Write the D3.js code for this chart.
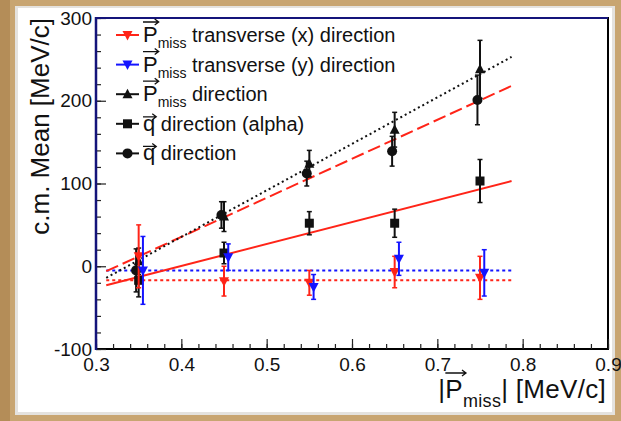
<!DOCTYPE html>
<html>
<head>
<meta charset="utf-8">
<script src="https://cdn.jsdelivr.net/npm/d3@7"></script>
<style>
  body { margin: 0; background: #c8a571; }
  svg { display: block; font-family: "Liberation Sans", Arial, sans-serif; }
</style>
</head>
<body>
<div id="chart"></div>
<script>
// bin centres in |Pmiss|
var xBins = [0.35, 0.45, 0.55, 0.65, 0.75];

// mean values and errors
var pxMean = [12, -18, -20, -7, -14];
var pxErr  = [38, 18, 15, 19, 26];
var pyMean = [-5, 11, -25, 9, -8];
var pyErr  = [41, 16, 15, 20, 28];
var pMean  = [6, 60, 124, 165, 238];
var pErr   = [16, 18, 16, 21, 35];
var qAlphaMean = [-17, 16, 52, 52, 103];
var qAlphaErr  = [20, 13, 14, 17, 26];
var qMean  = [-5, 62, 112, 139, 201];
var qErr   = [26, 16, 15, 18, 30];

// fit lines: value at start and end of fit range
var fitRange  = [0.312, 0.787];
var fitPx     = [-17, -17];
var fitPy     = [-5, -5];
var fitP      = [-14, 253];
var fitQAlpha = [-23, 103];
var fitQ      = [-6, 218];

var xTicks = [0.3, 0.4, 0.5, 0.6, 0.7, 0.8, 0.9];
var yTicks = [-100, 0, 100, 200, 300];

var RED = "#ff2418", BLUE = "#1414ff", NAVY = "#14147a";

var W = 621, H = 421;
var svg = d3.select("#chart").append("svg")
    .attr("width", W)
    .attr("height", H);

// paper background
svg.append("rect").attr("width", W).attr("height", H).attr("fill", "#c8a571");
svg.append("rect").attr("x", 0).attr("y", 0).attr("width", 10).attr("height", H).attr("fill", "#b48d58");
svg.append("rect").attr("x", 15).attr("y", 6).attr("width", 600).attr("height", 409)
    .attr("fill", "#e4e2de");
svg.append("rect").attr("x", 18).attr("y", 8).attr("width", 594).attr("height", 404)
    .attr("fill", "#ffffff");

var x = d3.scaleLinear().domain([0.3, 0.9]).range([96, 608]);
var y = d3.scaleLinear().domain([-100, 300]).range([349, 18]);

// frame
svg.append("rect")
    .attr("x", x(0.3)).attr("y", y(300))
    .attr("width", x(0.9) - x(0.3)).attr("height", y(-100) - y(300))
    .attr("fill", "white").attr("stroke", "black").attr("stroke-width", 2);

// minor ticks
svg.append("g").attr("transform", "translate(0," + y(-100) + ")")
    .call(d3.axisBottom(x).ticks(30).tickSize(-5).tickFormat(""))
    .call(function(g) { g.select(".domain").remove(); });
svg.append("g").attr("transform", "translate(" + x(0.3) + ",0)")
    .call(d3.axisLeft(y).ticks(20).tickSize(-5).tickFormat(""))
    .call(function(g) { g.select(".domain").remove(); });

// major ticks + labels
var xAxis = svg.append("g").attr("transform", "translate(0," + y(-100) + ")")
    .call(d3.axisBottom(x).tickValues(xTicks).tickSize(-10).tickPadding(6).tickFormat(d3.format(".1f")));
xAxis.select(".domain").remove();
xAxis.selectAll("text").attr("font-size", 19).attr("font-family", "Liberation Sans, Arial, sans-serif")
    .attr("fill", "#111").attr("dy", "0.85em");

var yAxis = svg.append("g").attr("transform", "translate(" + x(0.3) + ",0)")
    .call(d3.axisLeft(y).tickValues(yTicks).tickSize(-10).tickPadding(4)
        .tickFormat(function(d) { return String(d); }));
yAxis.select(".domain").remove();
yAxis.selectAll("text").attr("font-size", 19).attr("font-family", "Liberation Sans, Arial, sans-serif")
    .attr("fill", "#111");
svg.selectAll(".tick line").attr("stroke", "#222").attr("stroke-width", 1.2);

// navy left and top edges
svg.append("line").attr("x1", x(0.3)).attr("x2", x(0.3)).attr("y1", y(300) - 1).attr("y2", y(-100) + 1)
    .attr("stroke", NAVY).attr("stroke-width", 2.5);
svg.append("line").attr("x1", x(0.3)).attr("x2", x(0.9)).attr("y1", y(300)).attr("y2", y(300))
    .attr("stroke", NAVY).attr("stroke-width", 2);

// axis titles
svg.append("text")
    .attr("transform", "translate(49," + y(300) + ") rotate(-90)")
    .attr("text-anchor", "end")
    .attr("font-size", 26).attr("fill", "#111")
    .text("c.m. Mean [MeV/c]");

function arrowAbove(g, x0, x1, yy, col) {
    g.append("path")
        .attr("d", "M" + x0 + "," + yy + "H" + x1 + "M" + (x1 - 4) + "," + (yy - 3) + "L" + x1 + "," + yy + "L" + (x1 - 4) + "," + (yy + 3))
        .attr("fill", "none").attr("stroke", col || "#111").attr("stroke-width", 1.3);
}

var xTitle = svg.append("text").attr("y", 398).attr("font-size", 26).attr("fill", "#111")
    .attr("letter-spacing", 0.3);
xTitle.append("tspan").text("|P");
xTitle.append("tspan").attr("font-size", 18).attr("dy", 9).text("miss");
xTitle.append("tspan").attr("dy", -9).text("| [MeV/c]");
var tl = xTitle.node().getComputedTextLength();
var tx = 606 - tl;
xTitle.attr("x", tx);
var barW = xTitle.node().getSubStringLength(0, 1);
var barPW = xTitle.node().getSubStringLength(0, 2);
arrowAbove(svg, tx + barW, tx + barPW + 3, 373);

// fits
var fitLines = [
    { v: fitPx, col: RED, dash: "3,3" },
    { v: fitPy, col: BLUE, dash: "3,3" },
    { v: fitQAlpha, col: RED, dash: null },
    { v: fitQ, col: RED, dash: "13,5" },
    { v: fitP, col: "#111", dash: "2,3" }
];
fitLines.forEach(function(f) {
    svg.append("line")
        .attr("x1", x(fitRange[0])).attr("x2", x(fitRange[1]))
        .attr("y1", y(f.v[0])).attr("y2", y(f.v[1]))
        .attr("stroke", f.col).attr("stroke-width", 2)
        .attr("stroke-dasharray", f.dash);
});

var series = [
    { mean: pMean, err: pErr, col: "#111", shape: "up", dx: 0 },
    { mean: qAlphaMean, err: qAlphaErr, col: "#111", shape: "square", dx: 0 },
    { mean: qMean, err: qErr, col: "#111", shape: "circle", dx: -0.003 },
    { mean: pxMean, err: pxErr, col: RED, shape: "down", dx: 0 },
    { mean: pyMean, err: pyErr, col: BLUE, shape: "down", dx: 0.005 }
];

function marker(g, shape, cx, cy, col) {
    if (shape === "circle") {
        g.append("circle").attr("cx", cx).attr("cy", cy).attr("r", 5).attr("fill", col);
    } else if (shape === "square") {
        g.append("rect").attr("x", cx - 4.5).attr("y", cy - 4.5).attr("width", 9).attr("height", 9).attr("fill", col);
    } else if (shape === "up") {
        g.append("path").attr("d", "M" + cx + "," + (cy - 5.5) + "L" + (cx + 5) + "," + (cy + 4) + "L" + (cx - 5) + "," + (cy + 4) + "Z").attr("fill", col);
    } else {
        g.append("path").attr("d", "M" + cx + "," + (cy + 5.5) + "L" + (cx + 5) + "," + (cy - 4) + "L" + (cx - 5) + "," + (cy - 4) + "Z").attr("fill", col);
    }
}

series.forEach(function(s) {
    var g = svg.append("g");
    xBins.forEach(function(xv, i) {
        var cx = x(xv + s.dx);
        var top = y(s.mean[i] + s.err[i]), bot = y(s.mean[i] - s.err[i]);
        g.append("line").attr("x1", cx).attr("x2", cx).attr("y1", top).attr("y2", bot)
            .attr("stroke", s.col).attr("stroke-width", 2);
        [top, bot].forEach(function(yy) {
            g.append("line").attr("x1", cx - 2.5).attr("x2", cx + 2.5).attr("y1", yy).attr("y2", yy)
                .attr("stroke", s.col).attr("stroke-width", 1.5);
        });
        marker(g, s.shape, cx, y(s.mean[i]), s.col);
    });
});

// legend
var legendEntries = [
    { shape: "down", col: RED, vec: "P", sub: "miss", label: " transverse (x) direction" },
    { shape: "down", col: BLUE, vec: "P", sub: "miss", label: " transverse (y) direction" },
    { shape: "up", col: "#111", vec: "P", sub: "miss", label: " direction" },
    { shape: "square", col: "#111", vec: "q", sub: null, label: " direction (alpha)" },
    { shape: "circle", col: "#111", vec: "q", sub: null, label: " direction" }
];
legendEntries.forEach(function(e, i) {
    var cy = 35 + i * 29.6;
    var g = svg.append("g");
    g.append("line").attr("x1", 116).attr("x2", 139).attr("y1", cy).attr("y2", cy)
        .attr("stroke", e.col).attr("stroke-width", 2);
    marker(g, e.shape, 127.5, cy, e.col);
    var t = g.append("text").attr("x", 143).attr("y", cy + 7).attr("font-size", 20).attr("fill", "#111");
    t.append("tspan").attr("font-size", 22).text(e.vec);
    if (e.sub) {
        t.append("tspan").attr("font-size", 14).attr("dy", 6).text(e.sub);
        t.append("tspan").attr("dy", -6).text(e.label);
    } else {
        t.append("tspan").text(e.label);
    }
    var vw = t.node().getSubStringLength(0, 1);
    arrowAbove(g, 143, 143 + vw + 1, e.vec === "P" ? cy - 13 : cy - 7);
});
</script>
</body>
</html>
